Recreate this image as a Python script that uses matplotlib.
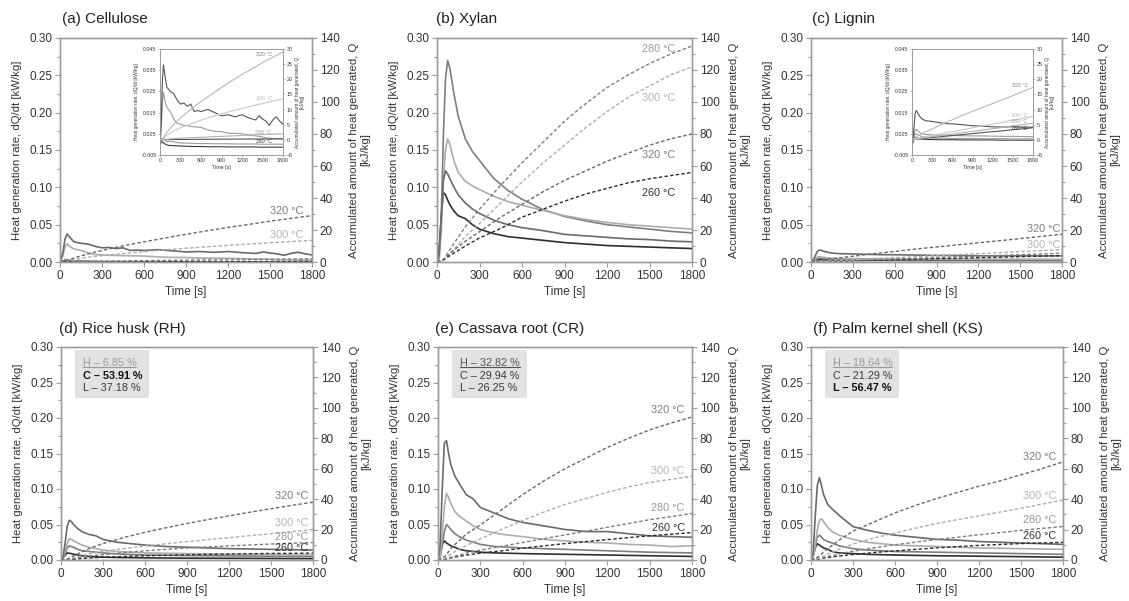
import matplotlib
matplotlib.use("Agg")
import matplotlib.pyplot as plt
from matplotlib.ticker import MultipleLocator, FixedLocator
from matplotlib.lines import Line2D
from matplotlib.patches import Rectangle

plt.rcParams['font.family'] = ['Liberation Sans', 'DejaVu Sans']

W, H, DPI = 1129, 601, 100
TEMPS = [260, 280, 300, 320]

# ---------------------------------------------------------------- time grids [s]
T_RATE = [0, 15, 30, 45, 60, 75, 90, 120, 150, 200, 250, 300, 400, 500, 600,
          750, 900, 1050, 1200, 1350, 1500, 1650, 1800]
T_CEL = [0, 20, 35, 50, 75, 100, 150, 200, 250, 300, 350, 400, 450, 500, 550,
         600, 700, 800, 900, 1000, 1100, 1200, 1300, 1400, 1450, 1500, 1550,
         1600, 1650, 1700, 1750, 1800]
T_Q = [0, 50, 100, 200, 300, 450, 600, 750, 900, 1050, 1200, 1350, 1500, 1650, 1800]

# ---------------------------------------------------------------- (a) cellulose
CEL_RATE = {
    320: [0, 0.012, 0.030, 0.0375, 0.032, 0.027, 0.025, 0.024, 0.021, 0.019, 0.0195,
          0.018, 0.019, 0.0155, 0.016, 0.0155, 0.0165, 0.015, 0.0135, 0.014, 0.013,
          0.014, 0.0125, 0.0115, 0.0135, 0.012, 0.011, 0.009, 0.0115, 0.013, 0.011, 0.0095],
    300: [0, 0.008, 0.020, 0.0245, 0.020, 0.0175, 0.0155, 0.012, 0.010, 0.0095, 0.009,
          0.0088, 0.0085, 0.0083, 0.0082, 0.008, 0.0068, 0.0062, 0.006, 0.0053, 0.0052,
          0.005, 0.0045, 0.004, 0.0038, 0.0035, 0.003, 0.003, 0.0028, 0.0027, 0.0026, 0.0025],
    280: [0, 0.0015, 0.003, 0.0028, 0.002, 0.0012, 0.0016, 0.0012, 0.0009, 0.0007, 0.0006,
          0.0006, 0.0005, 0.0005, 0.0004, 0.0004, 0.0004, 0.0003, 0.0003, 0.0003, 0.0002,
          0.0002, 0.0002, 0.0002, 0.0001, 0.0001, 0.0001, 0.0001, 0.0001, 0.0001, 0.0001, 0.0001],
    260: [0, 0.0008, 0.0012, 0.0008, 0.0002, -0.0003, -0.0005, -0.0006, -0.0007, -0.0008,
          -0.0008, -0.0009, -0.0009, -0.001, -0.001, -0.001, -0.0011, -0.0011, -0.0011,
          -0.0012, -0.0012, -0.0012, -0.0012, -0.0012, -0.0013, -0.0013, -0.0013, -0.0013,
          -0.0013, -0.0013, -0.0013, -0.0013],
}
CEL_Q = {
    320: [0, 0.8, 2.5, 5.1, 7.2, 10.1, 12.6, 15.0, 17.3, 19.5, 21.6, 23.5, 25.5, 27.3, 29.0],
    300: [0, 0.5, 1.5, 3.0, 4.0, 5.3, 6.5, 7.6, 8.6, 9.5, 10.4, 11.2, 12.0, 12.8, 13.5],
    280: [0, 0.1, 0.2, 0.4, 0.55, 0.7, 0.85, 1.0, 1.15, 1.3, 1.45, 1.6, 1.75, 1.9, 2.0],
    260: [0, 0.05, 0.1, 0.12, 0.14, 0.16, 0.18, 0.2, 0.22, 0.24, 0.26, 0.28, 0.3, 0.32, 0.35],
}

# ---------------------------------------------------------------- (b) xylan
XYL_RATE = {
    280: [0, 0.005, 0.06, 0.17, 0.245, 0.27, 0.26, 0.225, 0.195, 0.165, 0.148, 0.136,
          0.112, 0.096, 0.084, 0.070, 0.061, 0.055, 0.050, 0.047, 0.044, 0.041, 0.039],
    300: [0, 0.004, 0.04, 0.11, 0.15, 0.165, 0.158, 0.135, 0.120, 0.108, 0.102, 0.097,
          0.088, 0.081, 0.076, 0.069, 0.062, 0.057, 0.053, 0.050, 0.048, 0.046, 0.044],
    320: [0, 0.01, 0.06, 0.11, 0.122, 0.118, 0.112, 0.100, 0.090, 0.079, 0.071, 0.065,
          0.056, 0.050, 0.046, 0.042, 0.037, 0.035, 0.033, 0.031, 0.030, 0.028, 0.027],
    260: [0, 0.015, 0.06, 0.093, 0.090, 0.083, 0.077, 0.068, 0.062, 0.058, 0.050, 0.044,
          0.038, 0.034, 0.032, 0.029, 0.026, 0.024, 0.022, 0.021, 0.020, 0.019, 0.018],
}
XYL_Q = {
    280: [0, 2, 9, 22, 33, 48, 62, 75, 88, 99, 109, 117, 124, 130, 135],
    300: [0, 1.5, 6, 16, 24, 37, 50, 62, 73, 84, 94, 103, 110, 117, 122],
    320: [0, 1.5, 6, 13, 19, 28, 36, 44, 51, 57, 63, 68, 73, 77, 80],
    260: [0, 1.5, 4.5, 10, 15, 21, 28, 33, 38, 42.5, 46, 49.5, 52, 54, 56],
}

# ---------------------------------------------------------------- (c) lignin
LIG_RATE = {
    320: [0, 0.002, 0.008, 0.014, 0.016, 0.0155, 0.0145, 0.013, 0.012, 0.0112, 0.011,
          0.0108, 0.0103, 0.0098, 0.0097, 0.0093, 0.0088, 0.0086, 0.0083, 0.0082, 0.0083,
          0.0081, 0.0082],
    300: [0, 0.001, 0.004, 0.0065, 0.0072, 0.0068, 0.0062, 0.0055, 0.005, 0.0047, 0.0046,
          0.0045, 0.0044, 0.0043, 0.0042, 0.0041, 0.004, 0.004, 0.0039, 0.0038, 0.0038,
          0.0037, 0.0036],
    280: [0, 0.001, 0.003, 0.0045, 0.005, 0.0048, 0.0045, 0.004, 0.0036, 0.0033, 0.0031,
          0.003, 0.0029, 0.0029, 0.0028, 0.0028, 0.0028, 0.0027, 0.0027, 0.0027, 0.0026,
          0.0026, 0.0026],
    260: [0, 0.001, 0.0025, 0.0033, 0.0032, 0.003, 0.0028, 0.0026, 0.0025, 0.0024, 0.0023,
          0.0023, 0.0022, 0.0022, 0.0022, 0.0021, 0.0021, 0.0021, 0.0021, 0.002, 0.002,
          0.002, 0.002],
}
LIG_Q = {
    320: [0, 0.6, 1.5, 2.6, 3.6, 5.2, 6.6, 8.1, 9.4, 10.7, 12.0, 13.3, 14.6, 16.0, 17.3],
    300: [0, 0.3, 0.6, 1.1, 1.5, 2.1, 2.7, 3.3, 4.0, 4.6, 5.2, 5.8, 6.5, 7.1, 7.7],
    280: [0, 0.2, 0.4, 0.75, 1.05, 1.5, 1.9, 2.35, 2.8, 3.2, 3.7, 4.1, 4.6, 5.0, 5.5],
    260: [0, 0.15, 0.3, 0.55, 0.8, 1.1, 1.4, 1.75, 2.05, 2.4, 2.7, 3.0, 3.35, 3.65, 4.0],
}

# ---------------------------------------------------------------- (d) rice husk
RH_RATE = {
    320: [0, 0.005, 0.025, 0.048, 0.056, 0.054, 0.050, 0.044, 0.040, 0.036, 0.034, 0.029,
          0.025, 0.023, 0.021, 0.019, 0.018, 0.017, 0.016, 0.0155, 0.015, 0.0145, 0.014],
    300: [0, 0.003, 0.012, 0.024, 0.030, 0.029, 0.027, 0.024, 0.021, 0.018, 0.016, 0.014,
          0.012, 0.011, 0.010, 0.0095, 0.009, 0.0085, 0.008, 0.0078, 0.0075, 0.0072, 0.007],
    280: [0, 0.003, 0.010, 0.017, 0.020, 0.019, 0.018, 0.015, 0.013, 0.012, 0.011, 0.010,
          0.0085, 0.0078, 0.007, 0.0066, 0.0063, 0.006, 0.0058, 0.0055, 0.0053, 0.0051, 0.005],
    260: [0, 0.003, 0.007, 0.010, 0.0095, 0.009, 0.008, 0.007, 0.006, 0.005, 0.0045, 0.004,
          0.0035, 0.0033, 0.003, 0.0028, 0.0026, 0.0025, 0.0024, 0.0023, 0.0022, 0.0021, 0.002],
}
RH_Q = {
    320: [0, 0.7, 3.2, 7.5, 10.8, 14.8, 18.2, 21.2, 24.0, 26.6, 29.0, 31.4, 33.7, 35.9, 38.0],
    300: [0, 0.4, 1.8, 4.0, 5.6, 7.6, 9.2, 10.7, 12.1, 13.4, 14.7, 16.0, 17.3, 18.7, 20.0],
    280: [0, 0.3, 1.1, 2.5, 3.5, 4.9, 6.0, 7.0, 7.9, 8.6, 9.3, 9.9, 10.5, 11.0, 11.5],
    260: [0, 0.2, 0.6, 1.3, 1.8, 2.3, 2.8, 3.1, 3.4, 3.7, 3.9, 4.1, 4.3, 4.4, 4.5],
}

# ---------------------------------------------------------------- (e) cassava root
CR_RATE = {
    320: [0, 0.02, 0.10, 0.165, 0.168, 0.150, 0.135, 0.118, 0.108, 0.092, 0.086, 0.074,
          0.066, 0.058, 0.053, 0.048, 0.043, 0.040, 0.040, 0.037, 0.034, 0.033, 0.032],
    300: [0, 0.005, 0.035, 0.075, 0.094, 0.088, 0.080, 0.068, 0.062, 0.055, 0.048, 0.043,
          0.038, 0.035, 0.033, 0.029, 0.027, 0.025, 0.024, 0.022, 0.021, 0.019, 0.020],
    280: [0, 0.003, 0.020, 0.040, 0.050, 0.047, 0.043, 0.037, 0.033, 0.028, 0.025, 0.022,
          0.019, 0.018, 0.017, 0.016, 0.015, 0.014, 0.013, 0.012, 0.011, 0.0105, 0.010],
    260: [0, 0.008, 0.022, 0.027, 0.024, 0.022, 0.020, 0.018, 0.015, 0.013, 0.012, 0.011,
          0.010, 0.0095, 0.009, 0.0085, 0.008, 0.0075, 0.007, 0.0065, 0.006, 0.0055, 0.005],
}
CR_Q = {
    320: [0, 2.5, 8.5, 17, 23, 33, 43, 52, 60, 67, 74, 80, 85.5, 90, 94],
    300: [0, 1.2, 4.5, 9.5, 14, 20, 26, 31.5, 36.5, 40.5, 44.5, 48, 51, 53, 55],
    280: [0, 0.6, 2, 4.5, 6.5, 9, 11.5, 14, 16.5, 19, 21.5, 24, 26.5, 28.5, 30.6],
    260: [0, 0.6, 1.6, 3.2, 4.5, 6.0, 7.8, 9.3, 10.8, 12.1, 13.4, 14.7, 15.9, 17.0, 18.0],
}

# ---------------------------------------------------------------- (f) palm kernel shell
KS_RATE = {
    320: [0, 0.01, 0.06, 0.105, 0.116, 0.105, 0.092, 0.078, 0.072, 0.063, 0.055, 0.047,
          0.042, 0.038, 0.035, 0.032, 0.029, 0.028, 0.026, 0.025, 0.024, 0.023, 0.022],
    300: [0, 0.004, 0.02, 0.042, 0.056, 0.058, 0.054, 0.046, 0.040, 0.035, 0.032, 0.029,
          0.025, 0.023, 0.021, 0.020, 0.019, 0.018, 0.017, 0.0165, 0.016, 0.0155, 0.015],
    280: [0, 0.004, 0.018, 0.032, 0.035, 0.032, 0.029, 0.026, 0.024, 0.020, 0.018, 0.016,
          0.014, 0.013, 0.012, 0.0115, 0.011, 0.0105, 0.010, 0.0095, 0.009, 0.0085, 0.008],
    260: [0, 0.006, 0.017, 0.023, 0.021, 0.019, 0.017, 0.015, 0.012, 0.010, 0.0095, 0.009,
          0.008, 0.0075, 0.007, 0.0065, 0.006, 0.0057, 0.0053, 0.005, 0.0047, 0.0043, 0.004],
}
KS_Q = {
    320: [0, 2, 6, 13, 19, 25, 31, 36, 40.5, 44.5, 48.5, 52, 56, 60, 64.5],
    300: [0, 1, 3, 7, 10.5, 14.5, 17.7, 21, 24, 26.6, 29, 31.5, 34, 36.7, 39.4],
    280: [0, 0.7, 1.9, 4, 5.8, 8, 10, 11.8, 13.5, 15, 16.6, 18, 19.5, 20.8, 22],
    260: [0, 0.5, 1.4, 2.6, 3.6, 4.9, 6, 7, 8, 8.8, 9.6, 10.2, 10.8, 11.2, 11.6],
}

# hemicellulose / cellulose / lignin contents of the real biomasses
COMP_RH = ['H – 6.85 %', 'C – 53.91 %', 'L – 37.18 %']
COMP_CR = ['H – 32.82 %', 'C – 29.94 %', 'L – 26.25 %']
COMP_KS = ['H – 18.64 %', 'C – 21.29 %', 'L – 56.47 %']

# ---------------------------------------------------------------- styles
RATE_COLOR = {260: '#2e2e2e', 280: '#7e7e7e', 300: '#acacac', 320: '#6a6a6a'}
LABEL_COLOR = {260: '#333333', 280: '#9a9a9a', 300: '#b4b4b4', 320: '#7c7c7c'}
INSET_RATE_COLOR = {260: '#3a3a3a', 280: '#9a9a9a', 300: '#9a9a9a', 320: '#555555'}
INSET_Q_COLOR = {260: '#555555', 280: '#b0b0b0', 300: '#c8c8c8', 320: '#b8b8b8'}
SPINE = '#9c9c9c'
TXT = '#333333'

# temperature label anchors: (right edge time, height on the Q axis)
LBL_A = {320: (1740, 32.0), 300: (1740, 16.8)}
LBL_B = {280: (1680, 133), 300: (1680, 102.7), 320: (1680, 66.7), 260: (1680, 43.4)}
LBL_C = {320: (1785, 20.5), 300: (1785, 10.7)}
LBL_D = {320: (1765, 42.2), 300: (1765, 24.5), 280: (1765, 14.9), 260: (1765, 7.7)}
LBL_E = {320: (1748, 98.5), 300: (1748, 58.8), 280: (1748, 34.1), 260: (1748, 21.0)}
LBL_F = {320: (1753, 67.7), 300: (1753, 42.0), 280: (1753, 26.1), 260: (1753, 15.9)}
LBL_A_IN = {320: (1640, 28.3), 300: (1640, 13.5), 280: (1630, 2.4), 260: (1640, -0.6)}
LBL_C_IN = {320: (1730, 17.8), 300: (1715, 8.0), 280: (1715, 6.1), 260: (1715, 3.9)}

INSET_RATE_TICKS = [-0.005, 0.005, 0.015, 0.025, 0.035, 0.045]

fig = plt.figure(figsize=(W / DPI, H / DPI), dpi=DPI)


def px_axes(l, t, r, b):
    return fig.add_axes([l / W, 1 - b / H, (r - l) / W, (b - t) / H])


def style_axes(ax, ax2, small=False):
    fs = 3.8 if small else 8.5
    ln = 1.5 if small else 3.5
    lw = 0.6 if small else 1.0
    for a in (ax, ax2):
        for s in a.spines.values():
            s.set_color(SPINE)
            s.set_linewidth(lw)
        a.tick_params(which='both', direction='out', color=SPINE, width=lw * 0.8,
                      labelsize=fs, labelcolor=TXT, pad=1 if small else 2)
        a.tick_params(which='major', length=ln)
        a.tick_params(which='minor', length=ln * 0.7)


def main_panel(box, title, title_xy, t_rate, rate, q, labels, comp=None, bold=None,
               h_color='#999999'):
    ax = px_axes(*box)
    ax2 = ax.twinx()
    for T in TEMPS:
        ax.plot(t_rate, rate[T], color=RATE_COLOR[T], lw=1.2, zorder=3)
        ax2.plot(T_Q, q[T], color=RATE_COLOR[T], lw=1.0, ls=(0, (2.5, 1.6)), zorder=2)
    for T, (tx, qy) in labels.items():
        ax2.text(tx, qy, f'{T} °C', ha='right', va='center', fontsize=7.8,
                 color=LABEL_COLOR[T])
    ax.set_xlim(0, 1800)
    ax.set_ylim(0, 0.30)
    ax2.set_ylim(0, 140)
    ax.xaxis.set_major_locator(MultipleLocator(300))
    ax.yaxis.set_major_locator(MultipleLocator(0.05))
    ax.yaxis.set_minor_locator(MultipleLocator(0.025))
    ax2.yaxis.set_major_locator(MultipleLocator(20))
    ax2.yaxis.set_minor_locator(MultipleLocator(10))
    ax.yaxis.set_major_formatter(lambda v, p: f'{v:.2f}')
    style_axes(ax, ax2)
    ax.set_xlabel('Time [s]', fontsize=8.5, color=TXT, labelpad=3)
    ax.set_ylabel('Heat generation rate, dQ/dt [kW/kg]', fontsize=8.2, color=TXT,
                  labelpad=5)
    ax2.set_ylabel('Accumulated amount of heat generated, Q\n[kJ/kg]', fontsize=8.2,
                   color=TXT, labelpad=7, linespacing=1.15)
    fig.text(title_xy[0] / W, 1 - title_xy[1] / H, title, fontsize=11, color='#222222',
             ha='left', va='center')
    h_text = None
    if comp is not None:
        ax.add_patch(Rectangle((0.057, 0.76), 0.293, 0.226, transform=ax.transAxes,
                               facecolor='#e2e2e2', edgecolor='none', zorder=4))
        ys = [0.925, 0.862, 0.808]
        for i, (s, y) in enumerate(zip(comp, ys)):
            kw = dict(fontsize=7.8, transform=ax.transAxes, va='center', ha='left', zorder=5)
            if i == 0:
                h_text = ax.text(0.086, y, s, color=h_color, **kw)
            elif i == bold:
                ax.text(0.086, y, s, color='#111111', fontweight='bold', **kw)
            else:
                ax.text(0.086, y, s, color='#3a3a3a', **kw)
    return ax, ax2, h_text


def inset_panel(box, t_rate, rate, q, labels):
    ax = px_axes(*box)
    ax2 = ax.twinx()
    for T in TEMPS:
        ax2.plot(T_Q, q[T], color=INSET_Q_COLOR[T], lw=0.8, zorder=2)
        ax.plot(t_rate, rate[T], color=INSET_RATE_COLOR[T], lw=0.8, zorder=3)
    for T, (tx, qy) in labels.items():
        ax2.text(tx, qy, f'{T} °C', ha='right', va='center', fontsize=3.8,
                 color=LABEL_COLOR[T])
    ax.set_xlim(0, 1800)
    ax.set_ylim(-0.005, 0.045)
    ax2.set_ylim(-5, 30)
    ax.xaxis.set_major_locator(MultipleLocator(300))
    ax.yaxis.set_major_locator(FixedLocator(INSET_RATE_TICKS))
    ax.yaxis.set_major_formatter(lambda v, p: f'{v:.3f}')
    ax2.yaxis.set_major_locator(MultipleLocator(5))
    style_axes(ax, ax2, small=True)
    ax.set_zorder(5)
    ax2.set_zorder(6)
    ax.set_xlabel('Time [s]', fontsize=3.8, color=TXT, labelpad=1)
    ax.set_ylabel('Heat generation rate, dQ/dt [kW/kg]', fontsize=3.4, color=TXT,
                  labelpad=1.5)
    ax2.set_ylabel('Accumulated amount of heat generated, Q\n[kJ/kg]', fontsize=3.4,
                   color=TXT, labelpad=1.5, linespacing=1.1)


main_panel((60, 38, 312, 262), '(a) Cellulose', (62, 19), T_CEL, CEL_RATE, CEL_Q, LBL_A)
inset_panel((160, 49, 283, 155), T_CEL, CEL_RATE, CEL_Q, LBL_A_IN)
main_panel((437, 38, 692, 262), '(b) Xylan', (436, 19), T_RATE, XYL_RATE, XYL_Q, LBL_B)
main_panel((811, 38, 1062, 262), '(c) Lignin', (812, 19), T_RATE, LIG_RATE, LIG_Q, LBL_C)
inset_panel((912, 49, 1033, 155), T_RATE, LIG_RATE, LIG_Q, LBL_C_IN)

h_texts = []
h_texts.append(main_panel((61, 347, 313, 560), '(d) Rice husk (RH)', (59, 329), T_RATE,
                          RH_RATE, RH_Q, LBL_D, COMP_RH, bold=1, h_color='#9a9a9a')[2])
h_texts.append(main_panel((438, 347, 692, 560), '(e) Cassava root (CR)', (435, 329), T_RATE,
                          CR_RATE, CR_Q, LBL_E, COMP_CR, bold=None, h_color='#555555')[2])
h_texts.append(main_panel((811, 347, 1063, 560), '(f) Palm kernel shell (KS)', (813, 329),
                          T_RATE, KS_RATE, KS_Q, LBL_F, COMP_KS, bold=2, h_color='#9a9a9a')[2])

# underline the hemicellulose entry of each composition box
fig.canvas.draw()
renderer = fig.canvas.get_renderer()
for t in h_texts:
    bb = t.get_window_extent(renderer)
    y = (bb.y0 + 1.2) / H
    fig.add_artist(Line2D([bb.x0 / W, bb.x1 / W], [y, y], transform=fig.transFigure,
                          color=t.get_color(), lw=0.8, zorder=10))

fig.savefig('out.png', dpi=DPI)
